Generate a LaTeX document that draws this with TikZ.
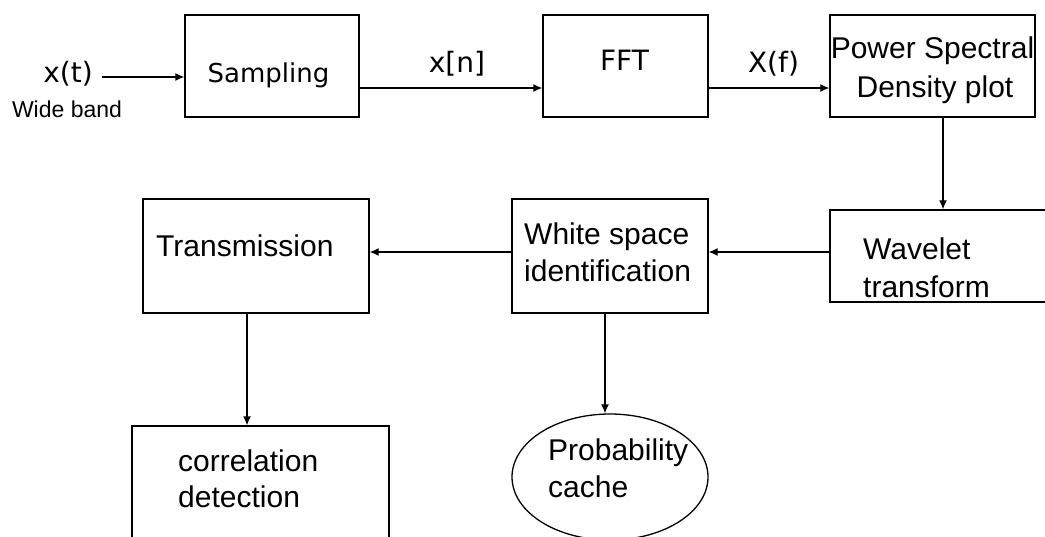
\documentclass[tikz,border=0pt]{standalone}
\usepackage{fontspec}
\setmainfont{Liberation Sans}
\newfontfamily\vfont{DejaVu Sans}
\usetikzlibrary{shapes.geometric,arrows.meta}

\tikzset{
  blk/.style={draw, line width=1.3pt, inner sep=0pt},
  txt/.style={inner sep=0pt, font=\fontsize{30}{36}\selectfont},
  vtxt/.style={inner sep=0pt, font=\vfont\fontsize{28}{33}\selectfont},
  link/.style={line width=1.3pt, -{Latex[length=9pt,width=8pt]}},
}

\begin{document}
\begin{tikzpicture}[x=1pt,y=-1pt]
  \useasboundingbox (0,0) rectangle (1045,536);
  \clip (0,0) rectangle (1045,536);

  %% top row
  \node[blk, minimum width=174pt, minimum height=102pt] (samp) at (272,66) {};
  \node[vtxt, anchor=base] (samptxt) at (268.5,82) {\fontsize{26}{31}\selectfont Sampling};

  \node[blk, minimum width=165pt, minimum height=102pt] (fft) at (625.5,66) {};
  \node[vtxt, anchor=base] (ffttxt) at (624.5,70) {FFT};

  \node[blk, minimum width=205pt, minimum height=102pt] (psd) at (932.5,66) {};
  \node[txt, anchor=base] (psdtop) at (932.5,58) {Power Spectral};
  \node[txt, anchor=base] (psdbot) at (935,97) {Density plot};

  %% input
  \node[vtxt, anchor=base] (xt) at (68,82) {x(t)};
  \node[txt, anchor=base, font=\fontsize{23}{28}\selectfont] (wide) at (67,117) {Wide band};
  \coordinate (xin) at (102,77);

  %% middle row
  \node[blk, minimum width=230pt, minimum height=92pt] (wav) at (945,256) {};
  \node[txt, anchor=base west] (wavtop) at (863,259) {Wavelet};
  \node[txt, anchor=base west] (wavbot) at (863,297) {transform};

  \node[blk, minimum width=196pt, minimum height=114pt] (wsp) at (610,256) {};
  \node[txt, anchor=base west] (wsptop) at (524,244) {White space};
  \node[txt, anchor=base west] (wspbot) at (524,281) {identification};

  \node[blk, minimum width=226pt, minimum height=114pt] (trans) at (256,256) {};
  \node[txt, anchor=base west] (transtxt) at (156,256) {Transmission};

  %% bottom row
  \node[blk, minimum width=257pt, minimum height=134pt] (corr) at (260.5,493) {};
  \node[txt, anchor=base west] (corrtop) at (178,471) {correlation};
  \node[txt, anchor=base west] (corrbot) at (178,507) {detection};

  \node[blk, ellipse, minimum width=196pt, minimum height=126pt] (prob) at (610,477) {};
  \node[txt, anchor=base west] (probtop) at (548,460) {Probability};
  \node[txt, anchor=base west] (probbot) at (548,497) {cache};

  %% signal path
  \draw[link] (xin) -- (xin -| samp.west);
  \draw[link] ([yshift=-22pt]samp.east) -- ([yshift=-22pt]fft.west);
  \node[vtxt, anchor=base] (xn) at (457,72) {x[n]};
  \draw[link] ([yshift=-22pt]fft.east) -- ([yshift=-22pt]psd.west);
  \node[vtxt, anchor=base] (xf) at (773.5,72) {X(f)};

  \draw[link] ([xshift=10.5pt]psd.south) -- ([xshift=10.5pt]psd.south |- wav.north);
  \draw[link] ([yshift=4pt]wav.west) -- ([yshift=4pt]wsp.east);
  \draw[link] ([yshift=4pt]wsp.west) -- ([yshift=4pt]trans.east);

  %% outputs
  \draw[link] ([xshift=-9pt]trans.south) -- ([xshift=-9pt]trans.south |- corr.north);
  \draw[link] ([xshift=-5pt]wsp.south) -- ([xshift=-5pt]wsp.south |- prob.north);

\end{tikzpicture}
\end{document}
